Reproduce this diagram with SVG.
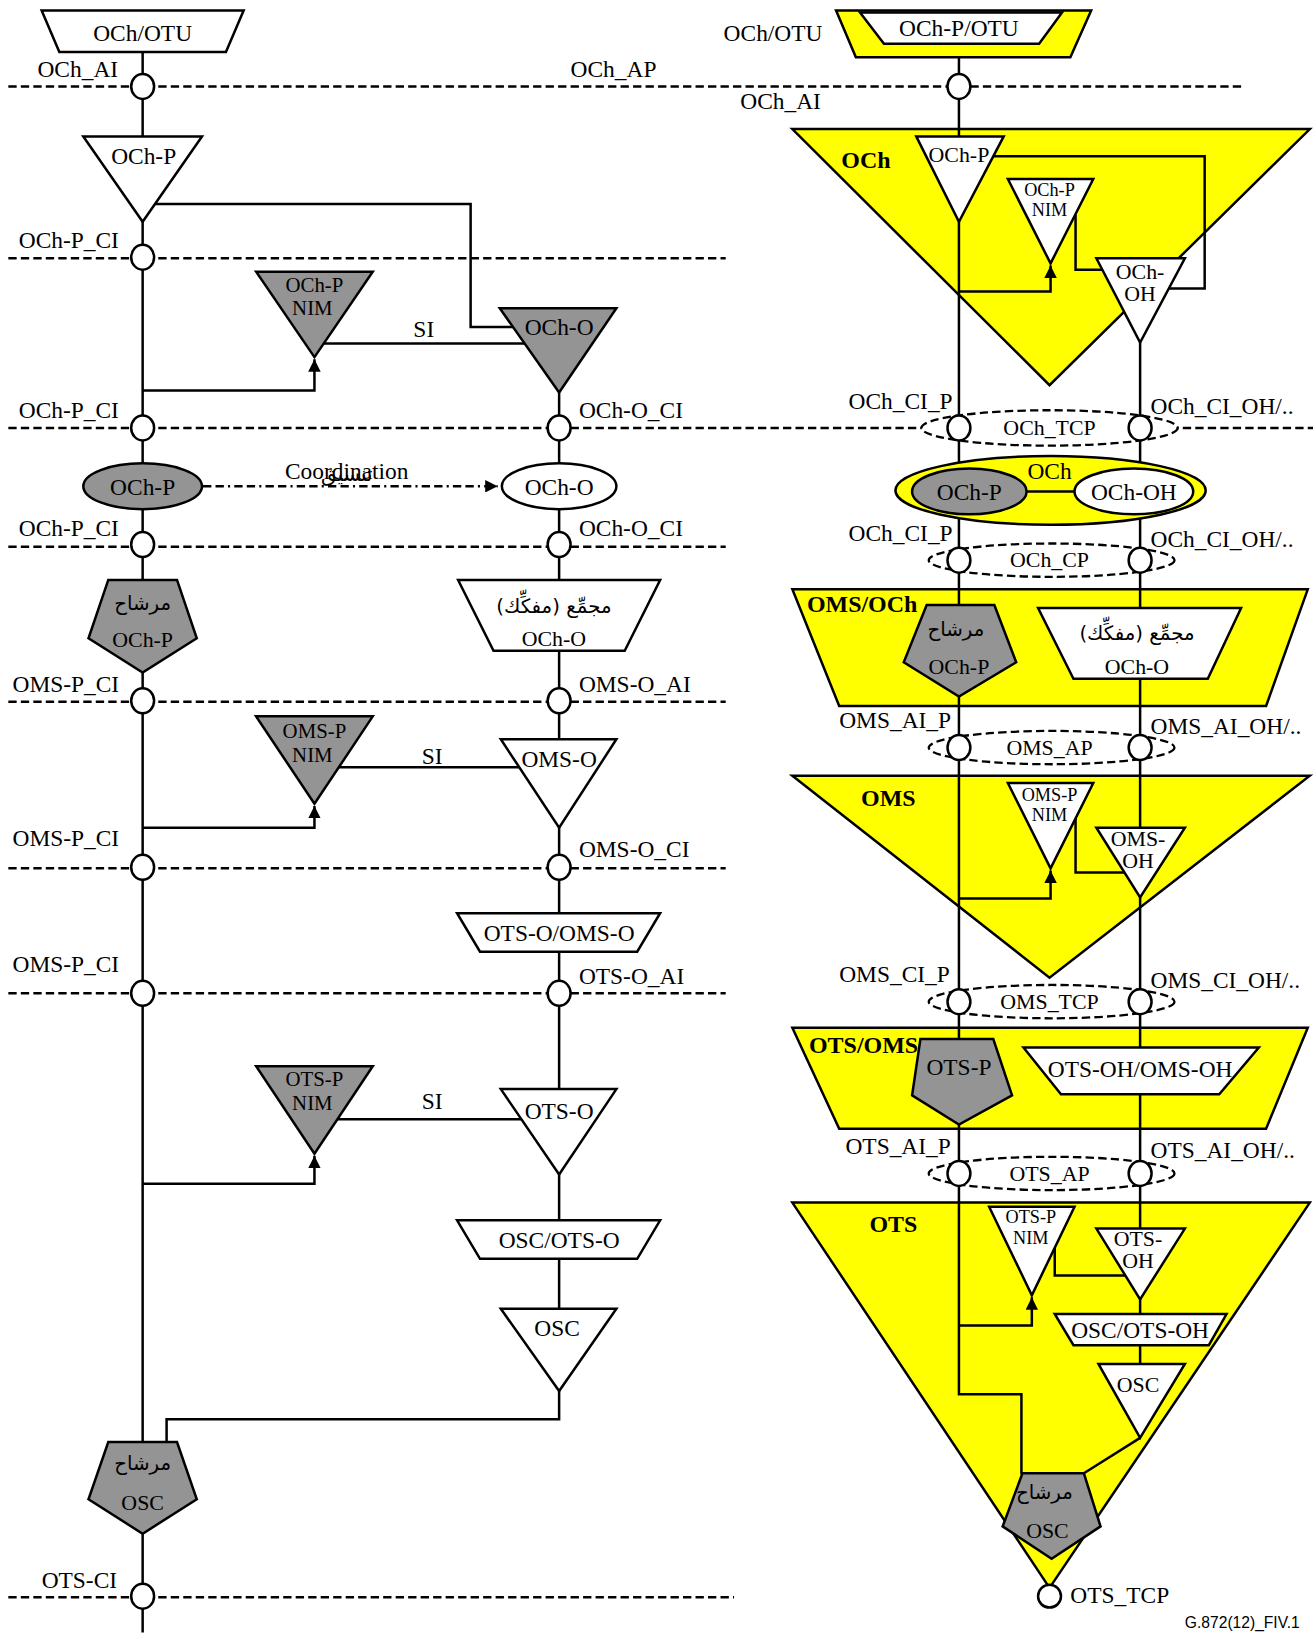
<svg xmlns="http://www.w3.org/2000/svg" width="1313" height="1633" viewBox="0 0 1313 1633">
<defs>
<style>
.ln{stroke:#000;stroke-width:2.4;fill:none}
.dl{stroke:#000;stroke-width:2.4;stroke-dasharray:8 4;fill:none}
.de{stroke:#000;stroke-width:2.2;stroke-dasharray:8 4;fill:#fff}
.w{fill:#fff;stroke:#000;stroke-width:2.4}
.g{fill:#949494;stroke:#000;stroke-width:2.4}
.y{fill:#ffff00;stroke:#000;stroke-width:2.4}
.cp{fill:#fff;stroke:#000;stroke-width:2.4}
text{font-family:"Liberation Serif","Times New Roman",serif;font-size:22.5px;fill:#000}
.c{text-anchor:middle}
.s{font-size:21px}
.n{font-size:20px}
.xs{font-size:17.5px}
.b{font-weight:bold;font-size:23px}
.ar{font-family:"DejaVu Sans","Noto Sans",sans-serif;font-size:19px}
</style>
<marker id="ah" viewBox="0 0 10 10" refX="10" refY="5" markerWidth="5" markerHeight="5" orient="auto">
<path d="M0,0 L10,5 L0,10 Z" fill="#000"/>
</marker>
</defs>
<rect width="1313" height="1633" fill="#fff"/>
<g transform="scale(1.0412)">

<g id="layer-lines">
<line class="dl" x1="8" y1="83" x2="1195" y2="83"/>
<line class="dl" x1="8" y1="248" x2="697" y2="248"/>
<line class="dl" x1="8" y1="411" x2="1262" y2="411"/>
<line class="dl" x1="8" y1="525" x2="697" y2="525"/>
<line class="dl" x1="8" y1="674" x2="697" y2="674"/>
<line class="dl" x1="8" y1="834" x2="697" y2="834"/>
<line class="dl" x1="8" y1="954" x2="697" y2="954"/>
<line class="dl" x1="8" y1="1534" x2="705" y2="1534"/>
</g>

<g id="och-otu-yellow"><polygon class="y" points="803,10 1048,10 1028,55 822,55"/></g>
<g id="och-yellow"><polygon class="y" points="761,124 1258,124 1008,370"/></g>
<g id="oms-och-yellow"><polygon class="y" points="761,566 1256,566 1216,678 806,678"/></g>
<g id="oms-yellow"><polygon class="y" points="761,745 1258,745 1008,939"/></g>
<g id="ots-oms-yellow"><polygon class="y" points="761,987 1256,987 1216,1084 806,1084"/></g>
<g id="ots-yellow"><polygon class="y" points="761,1155 1258,1155 1008,1525"/></g>

<g id="tcp-marks">
<ellipse class="de" cx="1008" cy="411" rx="123" ry="17"/>
<ellipse class="de" cx="1010" cy="538" rx="118" ry="16"/>
<ellipse class="de" cx="1010" cy="718" rx="118" ry="16"/>
<ellipse class="de" cx="1010" cy="962" rx="118" ry="16"/>
<ellipse class="de" cx="1010" cy="1127" rx="118" ry="16"/>
</g>

<g id="connectors">
<line class="ln" x1="137" y1="50" x2="137" y2="1568"/>
<line class="ln" x1="537" y1="377" x2="537" y2="1257"/>
<polyline class="ln" points="537,1336 537,1363 160,1363 160,1386"/>
<polyline class="ln" points="149,196 452,196 452,314 493,314"/>
<line class="ln" x1="311" y1="330" x2="504" y2="330"/>
<polyline class="ln" points="137,375 302,375 302,345" marker-end="url(#ah)"/>
<line class="ln" x1="325" y1="737" x2="499" y2="737"/>
<polyline class="ln" points="137,795 302,795 302,774" marker-end="url(#ah)"/>
<line class="ln" x1="324" y1="1075" x2="501" y2="1075"/>
<polyline class="ln" points="137,1137 302,1137 302,1110" marker-end="url(#ah)"/>
<line class="ln" x1="195" y1="467" x2="478" y2="467" stroke-dasharray="8 4 8 4 2 4" marker-end="url(#ah)"/>

<polyline class="ln" points="921,55 921,1339 981,1339 981,1416"/>
<line class="ln" x1="1095" y1="329" x2="1095" y2="1310"/>
<line class="ln" x1="1095" y1="1381" x2="1041" y2="1415"/>
<polyline class="ln" points="954,150 1157,150 1157,277 1122,277"/>
<polyline class="ln" points="1033,206 1033,259 1059,259"/>
<polyline class="ln" points="921,280 1009,280 1009,255" marker-end="url(#ah)"/>
<polyline class="ln" points="1033,786 1033,838 1080,838"/>
<polyline class="ln" points="921,863 1009,863 1009,836" marker-end="url(#ah)"/>
<polyline class="ln" points="1013,1198 1013,1225 1081,1225"/>
<polyline class="ln" points="921,1273 991,1273 991,1246" marker-end="url(#ah)"/>
</g>

<g id="n-och-otu"><polygon class="w" points="40,10 234,10 217,50 57,50"/><text class="c" x="137" y="39">OCh/OTU</text></g>
<g id="n-och-p"><polygon class="w" points="80,131 194,131 137,213"/><text class="c" x="138" y="158">OCh-P</text></g>
<g id="n-och-p-nim"><polygon class="g" points="246,261 358,261 302,343"/><text class="c n" x="302" y="280">OCh-P</text><text class="c n" x="300" y="303">NIM</text></g>
<g id="n-och-o"><polygon class="g" points="480,296 592,296 537,377"/><text class="c" x="537" y="322">OCh-O</text></g>
<g id="n-och-p-ell"><ellipse class="g" cx="137" cy="467" rx="57" ry="22"/><text class="c" x="137" y="475">OCh-P</text></g>
<g id="n-och-o-ell"><ellipse class="w" cx="537" cy="467" rx="55" ry="22"/><text class="c" x="537" y="475">OCh-O</text></g>
<g id="n-filter-och-p"><polygon class="g" points="104,557 170,557 189,613 137,646 85,613"/><text class="c ar" x="137" y="586">مرشاح</text><text class="c s" x="137" y="621">OCh-P</text></g>
<g id="n-mux-och-o"><polygon class="w" points="440,557 634,557 600,625 474,625"/><text class="c ar" x="532" y="589">مجمِّع (مفكِّك)</text><text class="c s" x="532" y="620">OCh-O</text></g>
<g id="n-oms-p-nim"><polygon class="g" points="246,688 358,688 302,772"/><text class="c n" x="302" y="709">OMS-P</text><text class="c n" x="300" y="732">NIM</text></g>
<g id="n-oms-o"><polygon class="w" points="481,710 592,710 537,795"/><text class="c" x="537" y="737">OMS-O</text></g>
<g id="n-ots-o-oms-o"><polygon class="w" points="439,877 634,877 612,914 461,914"/><text class="c" x="537" y="904">OTS-O/OMS-O</text></g>
<g id="n-ots-p-nim"><polygon class="g" points="246,1024 358,1024 302,1108"/><text class="c n" x="302" y="1043">OTS-P</text><text class="c n" x="300" y="1066">NIM</text></g>
<g id="n-ots-o"><polygon class="w" points="481,1046 592,1046 537,1128"/><text class="c" x="537" y="1075">OTS-O</text></g>
<g id="n-osc-ots-o"><polygon class="w" points="439,1172 634,1172 612,1209 461,1209"/><text class="c" x="537" y="1199">OSC/OTS-O</text></g>
<g id="n-osc"><polygon class="w" points="481,1257 592,1257 537,1336"/><text class="c" x="535" y="1283">OSC</text></g>
<g id="n-filter-osc"><polygon class="g" points="104,1385 170,1385 189,1440 137,1473 85,1440"/><text class="c ar" x="137" y="1412">مرشاح</text><text class="c s" x="137" y="1450">OSC</text></g>

<g id="cp-left">
<ellipse class="cp" cx="137" cy="83" rx="11" ry="12"/>
<ellipse class="cp" cx="137" cy="247" rx="11" ry="12"/>
<ellipse class="cp" cx="137" cy="411" rx="11" ry="12"/>
<ellipse class="cp" cx="537" cy="411" rx="11" ry="12"/>
<ellipse class="cp" cx="137" cy="523" rx="11" ry="12"/>
<ellipse class="cp" cx="537" cy="523" rx="11" ry="12"/>
<ellipse class="cp" cx="137" cy="673" rx="11" ry="12"/>
<ellipse class="cp" cx="537" cy="673" rx="11" ry="12"/>
<ellipse class="cp" cx="137" cy="833" rx="11" ry="12"/>
<ellipse class="cp" cx="537" cy="833" rx="11" ry="12"/>
<ellipse class="cp" cx="137" cy="954" rx="11" ry="12"/>
<ellipse class="cp" cx="537" cy="954" rx="11" ry="12"/>
<ellipse class="cp" cx="137" cy="1533" rx="11" ry="12"/>
</g>

<g id="n-och-p-otu"><polygon class="w" points="826,12 1020,12 998,42 849,42"/><text class="c" x="921" y="35">OCh-P/OTU</text></g>
<g id="n-r-och-p"><polygon class="w" points="880,131 964,131 921,213"/><text class="c s" x="921" y="156">OCh-P</text></g>
<g id="n-r-och-p-nim"><polygon class="w" points="968,172 1050,172 1009,253"/><text class="c xs" x="1008" y="188">OCh-P</text><text class="c xs" x="1008" y="207">NIM</text></g>
<g id="n-r-och-oh"><polygon class="w" points="1053,248 1138,248 1095,329"/><text class="c s" x="1095" y="268">OCh-</text><text class="c s" x="1095" y="289">OH</text></g>
<g id="n-och-ell"><ellipse class="y" cx="1009" cy="471" rx="149" ry="33"/><ellipse class="g" cx="931" cy="472" rx="55" ry="22"/><ellipse class="w" cx="1089" cy="472" rx="57" ry="22"/><line class="ln" x1="986" y1="472" x2="1032" y2="472"/><text class="c" x="1008" y="460">OCh</text><text class="c" x="931" y="480">OCh-P</text><text class="c" x="1089" y="480">OCh-OH</text></g>
<g id="n-r-filter-och-p"><polygon class="g" points="890,581 955,581 976,636 921,669 868,636"/><text class="c ar" x="918" y="611">مرشاح</text><text class="c s" x="921" y="647">OCh-P</text></g>
<g id="n-r-mux-och-o"><polygon class="w" points="997,584 1192,584 1160,652 1031,652"/><text class="c ar" x="1092" y="615">مجمِّع (مفكِّك)</text><text class="c s" x="1092" y="647">OCh-O</text></g>
<g id="n-r-oms-p-nim"><polygon class="w" points="968,752 1050,752 1009,834"/><text class="c xs" x="1008" y="769">OMS-P</text><text class="c xs" x="1008" y="789">NIM</text></g>
<g id="n-r-oms-oh"><polygon class="w" points="1053,795 1138,795 1095,862"/><text class="c s" x="1093" y="813">OMS-</text><text class="c s" x="1093" y="834">OH</text></g>
<g id="n-r-ots-p"><polygon class="g" points="884,998 954,998 972,1052 921,1080 876,1052"/><text class="c" x="921" y="1032">OTS-P</text></g>
<g id="n-r-ots-oh-oms-oh"><polygon class="w" points="983,1006 1209,1006 1171,1051 1019,1051"/><text class="c" x="1095" y="1034">OTS-OH/OMS-OH</text></g>
<g id="n-r-ots-p-nim"><polygon class="w" points="950,1159 1032,1159 991,1244"/><text class="c xs" x="990" y="1175">OTS-P</text><text class="c xs" x="990" y="1195">NIM</text></g>
<g id="n-r-ots-oh"><polygon class="w" points="1053,1180 1138,1180 1095,1248"/><text class="c s" x="1093" y="1197">OTS-</text><text class="c s" x="1093" y="1218">OH</text></g>
<g id="n-r-osc-ots-oh"><polygon class="w" points="1013,1262 1178,1262 1161,1292 1031,1292"/><text class="c" x="1095" y="1285">OSC/OTS-OH</text></g>
<g id="n-r-osc"><polygon class="w" points="1055,1310 1138,1310 1095,1381"/><text class="c s" x="1093" y="1337">OSC</text></g>
<g id="n-r-filter-osc"><polygon class="g" points="982,1415 1041,1415 1057,1466 1010,1497 963,1466"/><text class="c ar" x="1003" y="1440">مرشاح</text><text class="c s" x="1006" y="1477">OSC</text></g>

<g id="cp-right">
<ellipse class="cp" cx="921" cy="83" rx="11" ry="12"/>
<ellipse class="cp" cx="921" cy="411" rx="11" ry="12"/>
<ellipse class="cp" cx="1095" cy="411" rx="11" ry="12"/>
<ellipse class="cp" cx="921" cy="538" rx="11" ry="12"/>
<ellipse class="cp" cx="1095" cy="538" rx="11" ry="12"/>
<ellipse class="cp" cx="921" cy="718" rx="11" ry="12"/>
<ellipse class="cp" cx="1095" cy="718" rx="11" ry="12"/>
<ellipse class="cp" cx="921" cy="962" rx="11" ry="12"/>
<ellipse class="cp" cx="1095" cy="962" rx="11" ry="12"/>
<ellipse class="cp" cx="921" cy="1127" rx="11" ry="12"/>
<ellipse class="cp" cx="1095" cy="1127" rx="11" ry="12"/>
<ellipse class="cp" cx="1008" cy="1533" rx="11" ry="11"/>
</g>

<g id="labels">
<text x="36" y="74">OCh_AI</text>
<text x="548" y="74">OCh_AP</text>
<text x="18" y="238">OCh-P_CI</text>
<text class="c" x="407" y="324">SI</text>
<text x="18" y="401">OCh-P_CI</text>
<text x="556" y="401">OCh-O_CI</text>
<text class="c" x="333" y="460">Coordination</text>
<text class="c ar" x="333" y="462" font-size="14">تنسيق</text>
<text x="18" y="515">OCh-P_CI</text>
<text x="556" y="515">OCh-O_CI</text>
<text x="12" y="665">OMS-P_CI</text>
<text x="556" y="665">OMS-O_AI</text>
<text class="c" x="415" y="734">SI</text>
<text x="12" y="813">OMS-P_CI</text>
<text x="556" y="823">OMS-O_CI</text>
<text x="12" y="934">OMS-P_CI</text>
<text x="556" y="945">OTS-O_AI</text>
<text class="c" x="415" y="1065">SI</text>
<text x="40" y="1525">OTS-CI</text>

<text x="695" y="39">OCh/OTU</text>
<text x="711" y="105">OCh_AI</text>
<text class="b" x="808" y="161">OCh</text>
<text x="815" y="393">OCh_CI_P</text>
<text x="1105" y="398">OCh_CI_OH/..</text>
<text class="c s" x="1008" y="418">OCh_TCP</text>
<text x="815" y="520">OCh_CI_P</text>
<text x="1105" y="525">OCh_CI_OH/..</text>
<text class="c s" x="1008" y="545">OCh_CP</text>
<text class="b" x="775" y="588">OMS/OCh</text>
<text x="806" y="699">OMS_AI_P</text>
<text x="1105" y="705">OMS_AI_OH/..</text>
<text class="c s" x="1008" y="725">OMS_AP</text>
<text class="b" x="827" y="774">OMS</text>
<text x="806" y="943">OMS_CI_P</text>
<text x="1105" y="949">OMS_CI_OH/..</text>
<text class="c s" x="1008" y="969">OMS_TCP</text>
<text class="b" x="777" y="1011">OTS/OMS</text>
<text x="812" y="1108">OTS_AI_P</text>
<text x="1105" y="1112">OTS_AI_OH/..</text>
<text class="c s" x="1008" y="1134">OTS_AP</text>
<text class="b" x="835" y="1183">OTS</text>
<text x="1028" y="1540">OTS_TCP</text>
<text x="1138" y="1564" style="font-family:'Liberation Sans',Arial,sans-serif;font-size:15px">G.872(12)_FIV.1</text>
</g>
</g>
</svg>
